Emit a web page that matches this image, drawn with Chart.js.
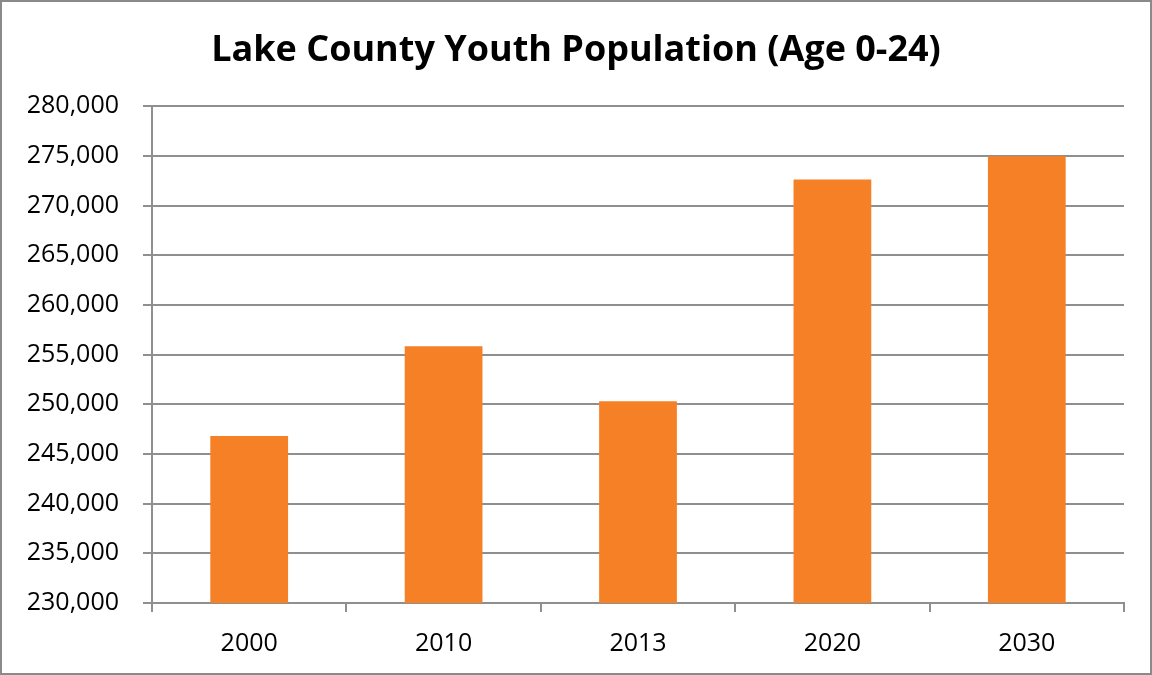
<!DOCTYPE html>
<html>
<head>
<meta charset="utf-8">
<script src="https://cdn.jsdelivr.net/npm/chart.js@4"></script>
<style>
  html, body { margin: 0; padding: 0; background: #fff; }
  #wrap {
    width: 1152px; height: 675px; box-sizing: border-box;
    border: 2px solid #8a8a8a; background: #fff;
  }
  canvas { display: block; }
</style>
</head>
<body>
<div id="wrap"><canvas id="popChart" width="1148" height="671"></canvas></div>
<script>
// data
const years = ['2000', '2010', '2013', '2020', '2030'];
const youthPop = [246800, 255830, 250300, 272630, 274960];
const yMin = 230000;
const yMax = 280000;
const yStep = 5000;

const gridGray = '#8f8f8f';
const font = 'Open Sans';

const ctx = document.getElementById('popChart').getContext('2d');

new Chart(ctx, {
  type: 'bar',
  data: {
    labels: years,
    datasets: [{
      label: 'Youth Population',
      data: youthPop,
      backgroundColor: '#f68026',
      barPercentage: 0.8,
      categoryPercentage: 0.5
    }]
  },
  options: {
    responsive: false,
    animation: false,
    // equal side padding keeps the title centred on the whole canvas
    layout: { padding: { left: 26, right: 26, top: 0, bottom: 0 } },
    plugins: {
      legend: { display: false },
      tooltip: { enabled: false },
      title: {
        display: true,
        text: 'Lake County Youth Population (Age 0-24)',
        color: '#000',
        font: { family: font, size: 36, weight: 'bold' },
        padding: { top: 27, bottom: 34 }
      }
    },
    scales: {
      x: {
        grid: {
          offset: true,
          drawOnChartArea: false,
          color: gridGray,
          lineWidth: 2,
          tickLength: 9
        },
        border: { color: gridGray, width: 2 },
        ticks: {
          color: '#000',
          font: { family: font, size: 25 },
          padding: 17
        },
        afterFit: (scale) => { scale.height = 70; }
      },
      y: {
        min: yMin,
        max: yMax,
        grid: {
          color: gridGray,
          lineWidth: 2,
          tickLength: 9
        },
        border: { color: gridGray, width: 2 },
        ticks: {
          stepSize: yStep,
          color: '#000',
          font: { family: font, size: 25 },
          padding: 24,
          callback: (v) => v.toLocaleString('en-US')
        },
        afterFit: (scale) => { scale.width = 124; }
      }
    }
  }
});
</script>
</body>
</html>
